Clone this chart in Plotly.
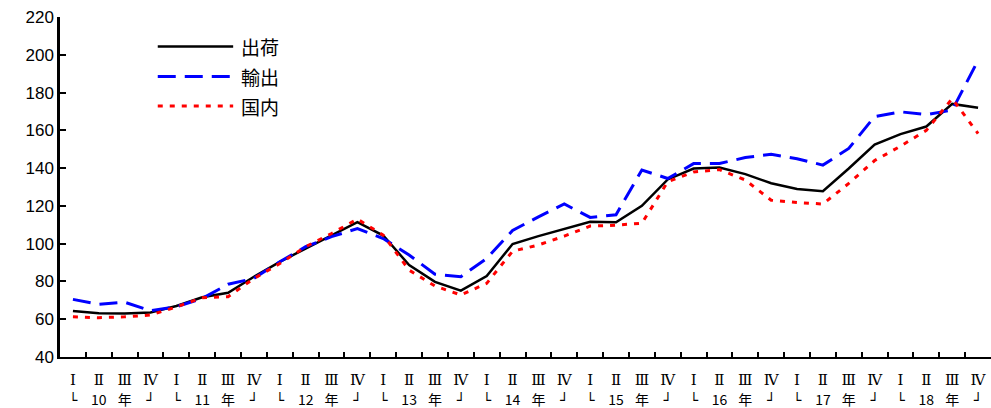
import plotly.graph_objects as go

years = ["10", "11", "12", "13", "14", "15", "16", "17", "18"]
quarters = ["Ⅰ", "Ⅱ", "Ⅲ", "Ⅳ"]
year_row = ['<span style="font-family:DejaVu Sans">└</span>', "{y}", "年",
            '<span style="font-family:DejaVu Sans">┘</span>']

shipments = [64.3, 63.2, 63.0, 63.6, 67.0, 71.6, 74.0, 82.5, 90.4, 97.5, 104.5, 111.4,
             104.3, 88.7, 79.8, 75.1, 82.9, 99.8, 104.0, 108.0, 111.6, 111.3, 120.0, 134.0,
             139.8, 140.3, 136.8, 132.0, 128.9, 127.8, 139.8, 152.4, 158.0, 162.0, 174.0, 172.0]
exports = [70.5, 67.9, 69.0, 64.5, 66.6, 71.0, 78.5, 81.6, 90.4, 98.4, 103.7, 108.0,
           102.7, 94.0, 83.8, 82.5, 92.2, 107.0, 114.2, 121.0, 113.9, 115.3, 139.0, 134.5,
           142.4, 142.4, 145.6, 147.3, 145.0, 141.6, 150.4, 167.3, 169.8, 168.3, 170.7, 197.0]
domestic = [61.3, 60.8, 61.3, 62.2, 66.5, 71.4, 71.9, 81.6, 89.5, 98.4, 105.4, 113.0,
            104.5, 86.0, 77.6, 72.8, 79.0, 96.0, 99.3, 104.0, 109.3, 109.8, 110.8, 132.8,
            138.0, 139.2, 133.7, 123.0, 121.8, 121.0, 131.9, 144.0, 151.6, 160.0, 176.8, 158.3]

series_names = ["出荷", "輸出", "国内"]
y_ticks = [40, 60, 80, 100, 120, 140, 160, 180, 200, 220]

cats = [f"{y}-{q}" for y in years for q in range(4)]
ticktext = []
for y in years:
    for q in range(4):
        ticktext.append(
            f'<span style="font-family:DejaVu Serif">{quarters[q]}</span><br>'
            + f'<span style="font-size:14px">{year_row[q].format(y=y)}</span>'
        )

styles = [
    dict(color="black", width=2.5, dash="solid"),
    dict(color="#0000FF", width=3, dash="18px,9px"),
    dict(color="#FF0000", width=3, dash="5px,7px"),
]

fig = go.Figure()
for name, vals, st in zip(series_names, [shipments, exports, domestic], styles):
    fig.add_trace(go.Scatter(x=cats, y=vals, mode="lines", name=name, line=st,
                             showlegend=False, hoverinfo="skip"))

# manual legend
leg_y = [0.913, 0.825, 0.738]
for name, st, yy in zip(series_names, styles, leg_y):
    fig.add_shape(type="line", xref="paper", yref="paper", x0=0.105, x1=0.186, y0=yy, y1=yy,
                  line=st)
    fig.add_annotation(xref="paper", yref="paper", x=0.192, y=yy, text=name, showarrow=False,
                       xanchor="left", yanchor="middle",
                       font=dict(size=19, color="black", family="Noto Sans CJK JP"))

fig.update_layout(
    width=991, height=408,
    margin=dict(l=60, r=0, t=17, b=51),
    paper_bgcolor="white", plot_bgcolor="white",
    font=dict(family="Noto Sans CJK JP", color="black"),
)
fig.update_xaxes(
    type="category", categoryorder="array", categoryarray=cats,
    range=[-0.5, 35.5], tickmode="array", tickvals=cats, ticktext=ticktext,
    tickson="boundaries", ticks="inside", ticklen=5, tickwidth=2, tickcolor="black",
    showline=True, linecolor="black", linewidth=2, showgrid=False, zeroline=False,
    tickfont=dict(size=15, family="Noto Sans CJK JP", color="black"),
    tickangle=0, automargin=False, ticklabelstandoff=8,
)
fig.update_yaxes(
    range=[40, 220], tickvals=y_ticks, ticks="inside", ticklen=6, tickwidth=2,
    tickcolor="black", showline=True, linecolor="black", linewidth=2.5,
    showgrid=False, zeroline=False, automargin=False,
    tickfont=dict(size=17, family="Liberation Sans", color="black"),
)

fig.write_html(
    "out.html",
    config={"displayModeBar": False},
    post_script="document.body.style.margin='0px';document.body.style.overflow='hidden';",
)
